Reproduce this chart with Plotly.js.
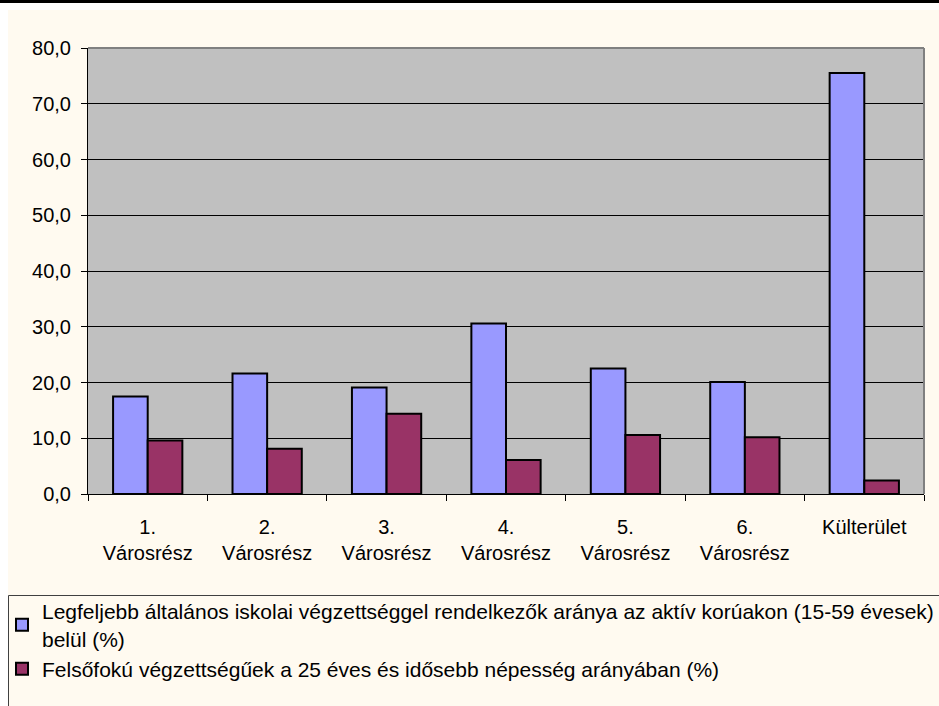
<!DOCTYPE html>
<html>
<head>
<meta charset="utf-8">
<script src="https://cdn.plot.ly/plotly-3.0.1.min.js"></script>
<style>html,body{margin:0;padding:0;background:#fff;}#chart{width:939px;height:706px;}</style>
</head>
<body>
<div id="chart"></div>
<script>
const categories = ["1.<br>Városrész", "2.<br>Városrész", "3.<br>Városrész", "4.<br>Városrész", "5.<br>Városrész", "6.<br>Városrész", "Külterület"];
const seriesNames = [
  "Legfeljebb általános iskolai végzettséggel rendelkezők aránya az aktív korúakon (15-59 évesek)<br>belül (%)",
  "Felsőfokú végzettségűek a 25 éves és idősebb népesség arányában (%)"
];
const basicEdu = [17.5, 21.6, 19.1, 30.6, 22.5, 20.1, 75.5];
const higherEdu = [9.6, 8.1, 14.4, 6.1, 10.6, 10.2, 2.4];
const yTicks = [0, 10, 20, 30, 40, 50, 60, 70, 80];

const W = 939, H = 706, L = 88, R = 15, T = 48, B = 212;
const pw = W - L - R, ph = H - T - B;
const px = p => (p - L) / pw;
const py = q => (H - B - q) / ph;

const font = {family: "Arial, 'Liberation Sans', sans-serif", size: 20, color: "#000"};
const legendFont = {family: "Arial, 'Liberation Sans', sans-serif", size: 21, color: "#000"};

const traces = [
  {type: "bar", name: seriesNames[0], x: categories, y: basicEdu,
   marker: {color: "#9999FF", line: {color: "#000", width: 2}}},
  {type: "bar", name: seriesNames[1], x: categories, y: higherEdu,
   marker: {color: "#993366", line: {color: "#000", width: 2}}}
];

const layout = {
  width: W, height: H,
  margin: {l: L, r: R, t: T, b: B, pad: 0},
  paper_bgcolor: "#FFFAF0",
  plot_bgcolor: "#C0C0C0",
  separators: ", ",
  font: font,
  barmode: "group",
  bargap: 0.42,
  bargroupgap: 0,
  showlegend: true,
  legend: {
    x: px(21), y: py(591), xanchor: "left", yanchor: "top",
    bgcolor: "rgba(0,0,0,0)", borderwidth: 0,
    font: legendFont, traceorder: "normal", tracegroupgap: 0
  },
  xaxis: {
    type: "category",
    showline: true, linecolor: "#000", linewidth: 1,
    ticks: "outside", tickson: "boundaries", ticklen: 6, tickcolor: "#000",
    ticklabelstandoff: 15,
    showgrid: false, zeroline: false, fixedrange: true,
    tickfont: font
  },
  yaxis: {
    range: [0, 80],
    tickvals: yTicks, tickformat: ".1f",
    showline: true, linecolor: "#000", linewidth: 1,
    ticks: "outside", ticklen: 6, tickcolor: "#000",
    ticklabelstandoff: 6,
    showgrid: true, gridcolor: "#000", gridwidth: 1,
    zeroline: false, fixedrange: true,
    tickfont: font
  },
  shapes: [
    {type: "rect", xref: "paper", yref: "paper", x0: px(-5), x1: px(8), y0: py(H + 5), y1: py(-5), fillcolor: "#fff", line: {width: 0}, layer: "above"},
    {type: "rect", xref: "paper", yref: "paper", x0: px(-5), x1: px(W + 5), y0: py(10), y1: py(-5), fillcolor: "#fff", line: {width: 0}, layer: "above"},
    {type: "line", xref: "paper", yref: "paper", x0: px(-5), x1: px(W + 5), y0: py(1.5), y1: py(1.5), line: {color: "#000", width: 3}, layer: "above"},
    {type: "line", xref: "paper", yref: "paper", x0: 0, x1: 1, y0: 1, y1: 1, line: {color: "#808080", width: 2}, layer: "above"},
    {type: "line", xref: "paper", yref: "paper", x0: 1, x1: 1, y0: 0, y1: 1, line: {color: "#808080", width: 2}, layer: "above"},
    {type: "rect", xref: "paper", yref: "paper", x0: px(8.5), x1: px(W + 10), y0: py(H + 10), y1: py(595.5), fillcolor: "rgba(0,0,0,0)", line: {color: "#404040", width: 1}, layer: "above"}
  ]
};

Plotly.newPlot("chart", traces, layout, {displayModeBar: false, staticPlot: true});
</script>
</body>
</html>
